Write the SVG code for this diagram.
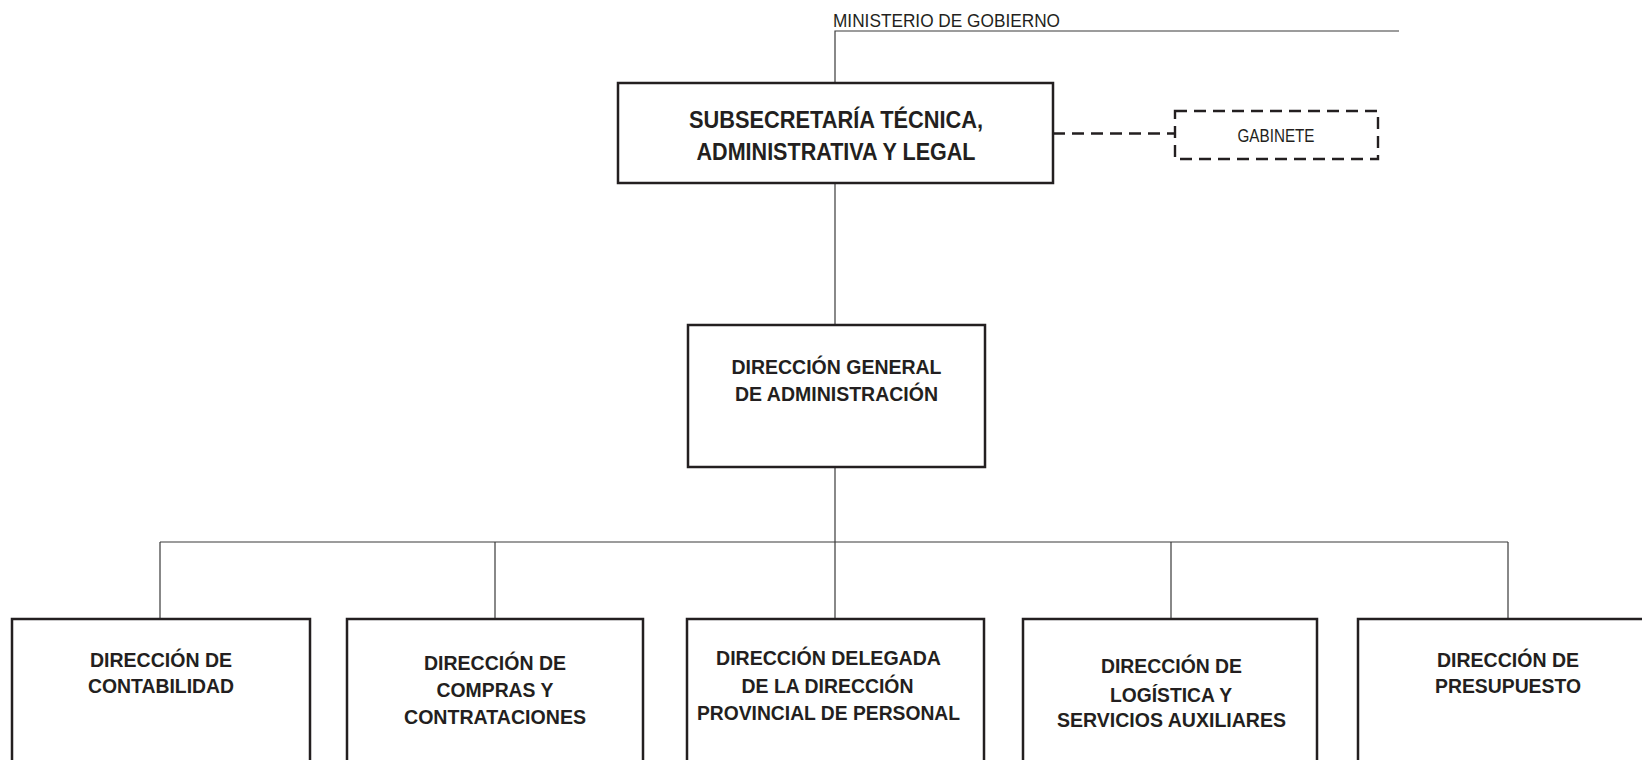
<svg xmlns="http://www.w3.org/2000/svg" width="1642" height="760" viewBox="0 0 1642 760">
<style>
.box{fill:#fff;stroke:#231f20;stroke-width:2.5}
.dbox{fill:#fff;stroke:#231f20;stroke-width:2.4;stroke-dasharray:12 7}
.ln{fill:none;stroke:#3a3a3a;stroke-width:1.2}
.dl{fill:none;stroke:#231f20;stroke-width:2.4;stroke-dasharray:12 7}
.t{font-family:"Liberation Sans",Arial,sans-serif;font-weight:bold;font-size:21px;fill:#231f20;text-anchor:middle}
.tl{font-family:"Liberation Sans",Arial,sans-serif;font-size:19px;fill:#231f20}
</style>
<rect width="1642" height="760" fill="#fff"/>
<g id="connectors">
<path class="ln" d="M835 83V31H1399"/>
<path class="ln" d="M835 183V325"/>
<path class="ln" d="M835 467V542"/>
<path class="ln" d="M160 542H1508"/>
<path class="ln" d="M160 542V619M495 542V619M835 542V619M1171 542V619M1508 542V619"/>
<path class="dl" d="M1053 133.5H1175"/>
</g>
<g id="ministerio">
<text class="tl" x="833" y="26.5" textLength="227" lengthAdjust="spacingAndGlyphs">MINISTERIO DE GOBIERNO</text>
</g>
<g id="subsecretaria">
<rect class="box" x="618" y="83" width="435" height="100"/>
<text class="t" style="font-size:23px" x="836" y="128.3" textLength="294" lengthAdjust="spacingAndGlyphs">SUBSECRETARÍA TÉCNICA,</text>
<text class="t" style="font-size:23px" x="836" y="160" textLength="279" lengthAdjust="spacingAndGlyphs">ADMINISTRATIVA Y LEGAL</text>
</g>
<g id="gabinete">
<rect class="dbox" x="1175" y="111" width="203" height="48"/>
<text class="tl" x="1276" y="141.5" text-anchor="middle" style="font-size:19px" textLength="77" lengthAdjust="spacingAndGlyphs">GABINETE</text>
</g>
<g id="dga">
<rect class="box" x="688" y="325" width="297" height="142"/>
<text class="t" x="836.5" y="374" textLength="210" lengthAdjust="spacingAndGlyphs">DIRECCIÓN GENERAL</text>
<text class="t" x="836.5" y="401" textLength="203" lengthAdjust="spacingAndGlyphs">DE ADMINISTRACIÓN</text>
</g>
<g id="contabilidad">
<rect class="box" x="12" y="619" width="298" height="160"/>
<text class="t" x="161" y="667.3" textLength="142" lengthAdjust="spacingAndGlyphs">DIRECCIÓN DE</text>
<text class="t" x="161" y="693.3" textLength="146" lengthAdjust="spacingAndGlyphs">CONTABILIDAD</text>
</g>
<g id="compras">
<rect class="box" x="347" y="619" width="296" height="160"/>
<text class="t" x="495" y="669.5" textLength="142" lengthAdjust="spacingAndGlyphs">DIRECCIÓN DE</text>
<text class="t" x="495" y="697" textLength="117" lengthAdjust="spacingAndGlyphs">COMPRAS Y</text>
<text class="t" x="495" y="724" textLength="182" lengthAdjust="spacingAndGlyphs">CONTRATACIONES</text>
</g>
<g id="personal">
<rect class="box" x="687" y="619" width="297" height="160"/>
<text class="t" x="828.5" y="665" textLength="225" lengthAdjust="spacingAndGlyphs">DIRECCIÓN DELEGADA</text>
<text class="t" x="827.5" y="693" textLength="172" lengthAdjust="spacingAndGlyphs">DE LA DIRECCIÓN</text>
<text class="t" x="828.5" y="720" textLength="263" lengthAdjust="spacingAndGlyphs">PROVINCIAL DE PERSONAL</text>
</g>
<g id="logistica">
<rect class="box" x="1023" y="619" width="294" height="160"/>
<text class="t" x="1171.5" y="673" textLength="141" lengthAdjust="spacingAndGlyphs">DIRECCIÓN DE</text>
<text class="t" x="1171" y="701.5" textLength="122" lengthAdjust="spacingAndGlyphs">LOGÍSTICA Y</text>
<text class="t" x="1171.5" y="727.3" textLength="229" lengthAdjust="spacingAndGlyphs">SERVICIOS AUXILIARES</text>
</g>
<g id="presupuesto">
<rect class="box" x="1358" y="619" width="300" height="160"/>
<text class="t" x="1508" y="667.3" textLength="142" lengthAdjust="spacingAndGlyphs">DIRECCIÓN DE</text>
<text class="t" x="1508" y="693.3" textLength="146" lengthAdjust="spacingAndGlyphs">PRESUPUESTO</text>
</g>
</svg>
